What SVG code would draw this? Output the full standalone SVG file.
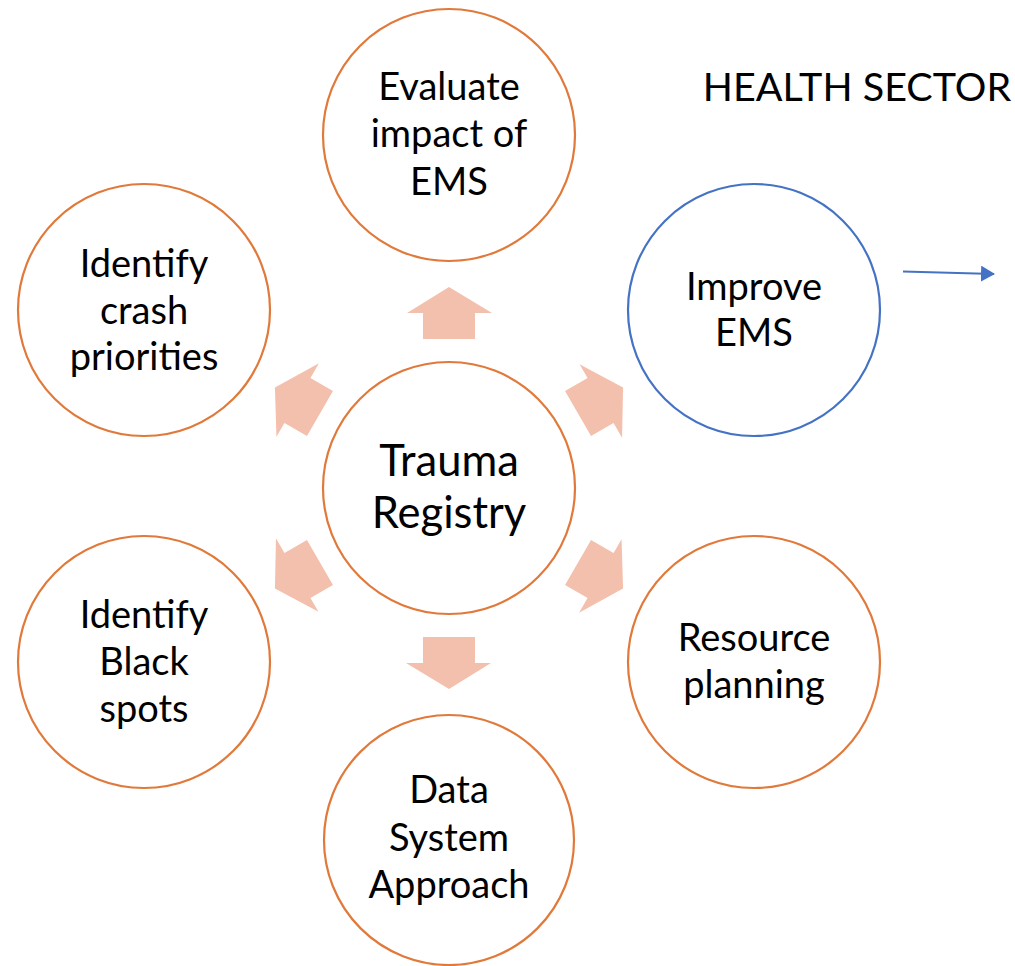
<svg xmlns="http://www.w3.org/2000/svg" width="1015" height="966" viewBox="0 0 1015 966">
<style>
.c{fill:#fff;stroke:#E0793A;stroke-width:2.2}
.cb{fill:#fff;stroke:#4472C4;stroke-width:2.2}
.t{font-family:Lato,"Open Sans",sans-serif;font-size:38px;fill:#000;text-anchor:middle}
.tl{font-family:Lato,"Open Sans",sans-serif;font-size:43.5px;fill:#000;text-anchor:middle}
.th{font-family:Lato,"Open Sans",sans-serif;font-size:39.5px;fill:#000;text-anchor:middle}
.ar{fill:#F4C0AE}
</style>
<defs>
<polygon id="up" class="ar" points="449,287 492,313 475,313 475,339 423,339 423,313 407,313"/>
<marker id="bh" viewBox="0 0 14 16" refX="13" refY="8" markerWidth="14" markerHeight="16" markerUnits="userSpaceOnUse" orient="auto">
<path d="M0,0 L14,8 L0,16 Z" fill="#4472C4"/>
</marker>
</defs>
<g id="connectors">
<use href="#up"/>
<use href="#up" transform="rotate(-60 449 488)"/>
<use href="#up" transform="rotate(60 449 488)"/>
<use href="#up" transform="rotate(120 449 488)"/>
<use href="#up" transform="rotate(-120 449 488)"/>
<use href="#up" transform="rotate(180 449 488)"/>
<line x1="903" y1="271.5" x2="994" y2="274" stroke="#4472C4" stroke-width="2" marker-end="url(#bh)"/>
</g>
<g id="center">
<circle class="c" cx="449" cy="488" r="126"/>
<text class="tl" x="449" y="476">Trauma</text>
<text class="tl" x="449" y="528">Registry</text>
</g>
<g id="evaluate">
<circle class="c" cx="449" cy="135" r="126"/>
<text class="t" x="449" y="100">Evaluate</text>
<text class="t" x="449" y="147">impact of</text>
<text class="t" x="449" y="195">EMS</text>
</g>
<g id="crash">
<circle class="c" cx="144" cy="310" r="126"/>
<text class="t" x="144" y="277">Identify</text>
<text class="t" x="144" y="324">crash</text>
<text class="t" x="144" y="370">priorities</text>
</g>
<g id="improve">
<circle class="cb" cx="754" cy="310" r="126"/>
<text class="t" x="754" y="300">Improve</text>
<text class="t" x="754" y="346">EMS</text>
</g>
<g id="black">
<circle class="c" cx="144" cy="662" r="126"/>
<text class="t" x="144" y="628">Identify</text>
<text class="t" x="144" y="675">Black</text>
<text class="t" x="144" y="722">spots</text>
</g>
<g id="resource">
<circle class="c" cx="754" cy="662" r="126"/>
<text class="t" x="754" y="651">Resource</text>
<text class="t" x="754" y="698">planning</text>
</g>
<g id="data">
<circle class="c" cx="449" cy="840" r="125"/>
<text class="t" x="449" y="803">Data</text>
<text class="t" x="449" y="851">System</text>
<text class="t" x="449" y="898">Approach</text>
</g>
<g id="health">
<text class="th" x="857" y="101">HEALTH SECTOR</text>
</g>
</svg>
